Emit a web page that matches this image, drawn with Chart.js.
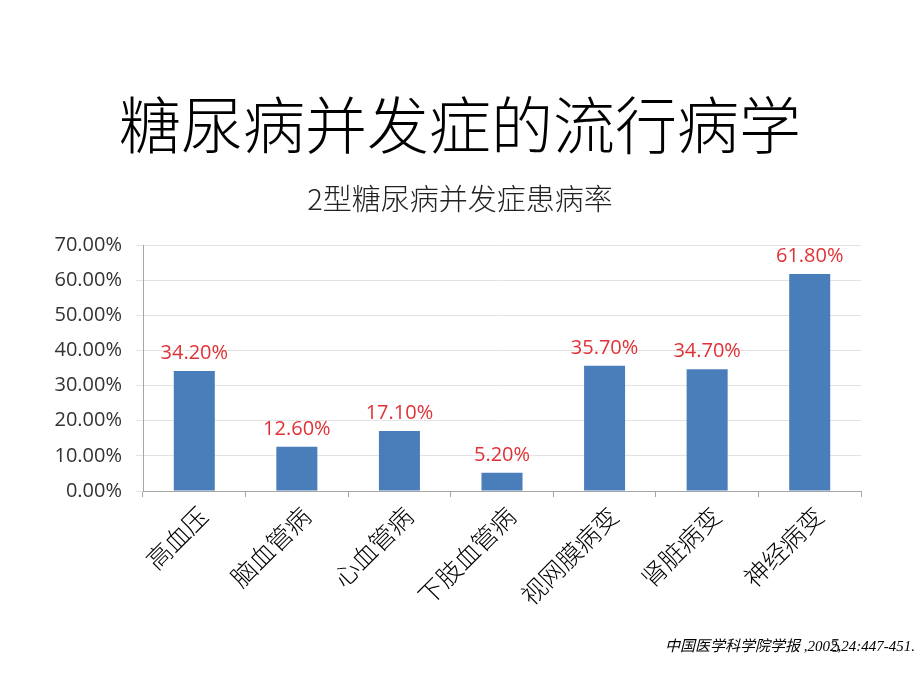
<!DOCTYPE html>
<html>
<head>
<meta charset="utf-8">
<script src="https://cdn.jsdelivr.net/npm/chart.js@4.4.1/dist/chart.umd.min.js"></script>
<style>
  html, body { margin: 0; padding: 0; background: #fff; }
  #wrap { position: relative; width: 920px; height: 690px; }
  #note {
    position: absolute; right: 5px; top: 634px;
    font-family: "Liberation Serif", "Noto Sans CJK SC", serif;
    font-style: italic; font-size: 15px; color: #000;
  }
  #page {
    position: absolute; left: 831px; top: 636px;
    font-family: "Liberation Serif", serif; font-size: 18px; color: #222;
  }
</style>
</head>
<body>
<div id="wrap">
  <canvas id="myChart" width="920" height="690"></canvas>
  <div id="note">中国医学科学院学报 ,2002,24:447-451.</div>
  <div id="page">5</div>
</div>
<script>
const categories = ['高血压', '脑血管病', '心血管病', '下肢血管病', '视网膜病变', '肾脏病变', '神经病变']
const rates = [34.2, 12.6, 17.1, 5.2, 35.7, 34.7, 61.8]
const yTicks = [0, 10, 20, 30, 40, 50, 60, 70]

// red percentage labels over each bar
const valueLabels = {
    id: 'valueLabels',
    afterDatasetsDraw(chart) {
        const ctx = chart.ctx;
        const meta = chart.getDatasetMeta(0);
        ctx.save();
        ctx.fillStyle = '#e03236';
        ctx.font = '20px "Open Sans", "Noto Sans", sans-serif';
        ctx.textAlign = 'center';
        ctx.textBaseline = 'alphabetic';
        meta.data.forEach((bar, i) => {
            ctx.fillText(rates[i].toFixed(2) + '%', bar.x, bar.y - 12);
        });
        ctx.restore();
    }
}

const config = {
    type: 'bar',
    data: {
        labels: categories,
        datasets: [{
            data: rates,
            backgroundColor: '#4a7ebb',
            borderWidth: 0,
            categoryPercentage: 1,
            barPercentage: 0.4
        }]
    },
    options: {
        responsive: false,
        animation: false,
        layout: { padding: { left: 0, right: 0, top: 88, bottom: 0 } },
        plugins: {
            legend: { display: false },
            tooltip: { enabled: false },
            title: {
                display: true,
                text: '糖尿病并发症的流行病学',
                color: '#000',
                font: { family: '"Noto Sans CJK SC", sans-serif', size: 62, weight: 300 },
                padding: { top: 0, bottom: 19 }
            },
            subtitle: {
                display: true,
                text: '2型糖尿病并发症患病率',
                color: '#222',
                font: { family: '"Noto Sans CJK SC", sans-serif', size: 29, weight: 300 },
                padding: { top: 0, bottom: 29 }
            }
        },
        scales: {
            x: {
                afterFit(scale) { scale.height = 199; },
                border: { color: '#a6a6a6' },
                grid: { drawOnChartArea: false, drawTicks: true, tickLength: 6, color: '#a6a6a6' },
                ticks: {
                    color: '#000',
                    minRotation: 45,
                    maxRotation: 45,
                    labelOffset: 9,
                    font: { family: '"Noto Sans CJK SC", sans-serif', size: 25, weight: 300 },
                    padding: 4
                }
            },
            y: {
                min: 0,
                max: 70,
                afterFit(scale) { scale.width = 143; },
                afterBuildTicks(scale) {
                    scale.ticks = yTicks.map(v => ({ value: v }));
                },
                border: { color: '#a6a6a6' },
                grid: { drawTicks: true, tickLength: 7, color: '#e3e3e3' },
                ticks: {
                    color: '#333',
                    padding: 14,
                    font: { family: '"Open Sans", "Noto Sans", sans-serif', size: 20 },
                    callback: v => v.toFixed(2) + '%'
                }
            },
            // empty right axis, only keeps the plot clear of the right edge
            yRight: {
                position: 'right',
                min: 0,
                max: 70,
                afterFit(scale) { scale.width = 59; },
                border: { display: false },
                grid: { display: false },
                ticks: { display: false }
            }
        }
    },
    plugins: [valueLabels]
};

new Chart(document.getElementById('myChart'), config);
</script>
</body>
</html>
